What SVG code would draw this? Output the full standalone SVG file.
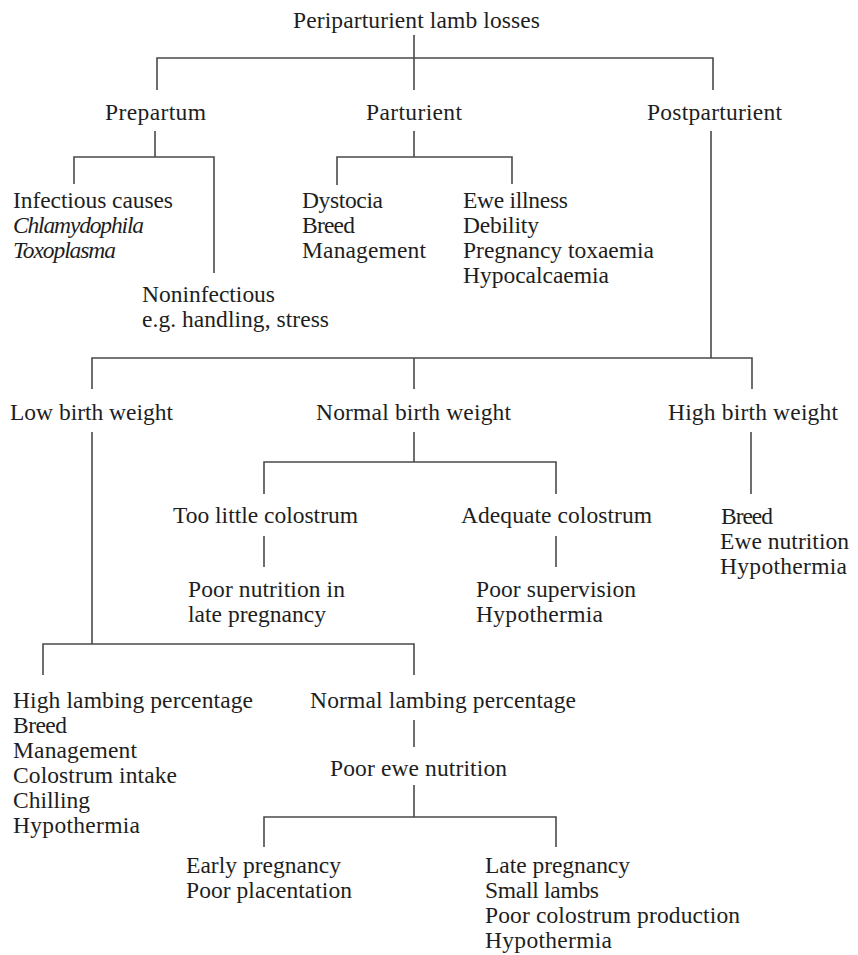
<svg xmlns="http://www.w3.org/2000/svg" width="858" height="955" viewBox="0 0 858 955">
  <style>
    text { font-family: "Liberation Serif", "Times New Roman", serif; font-size: 23.5px; fill: #1e1e1e; }
    .it { font-style: italic; }
    .conn path { fill: none; stroke: #4a4a4a; stroke-width: 1.6; }
  </style>
  <rect width="858" height="955" fill="#fff"/>

  <!-- tree connectors -->
  <g class="conn" id="connectors">
    <path d="M414 35 V90 M157 90 V58 H713 V90"/>
    <path d="M155 131 V157 M74 184 V157 H214 V273"/>
    <path d="M414 131 V157 M337 185 V157 H512 V184"/>
    <path d="M711 131 V358 M92 389 V358 H752 V389 M414 358 V389"/>
    <path d="M92 432 V644 M43 675 V644 H414 V675"/>
    <path d="M414 432 V462 M264 494 V462 H556 V494"/>
    <path d="M264 536 V567 M556 536 V567"/>
    <path d="M751 432 V494"/>
    <path d="M414 720 V747"/>
    <path d="M414 785 V817 M264 847 V817 H556 V847"/>
  </g>

  <g id="root">
    <text x="293" y="28" textLength="247" lengthAdjust="spacing">Periparturient lamb losses</text>
  </g>

  <g id="prepartum">
    <text x="105" y="120" textLength="101" lengthAdjust="spacing">Prepartum</text>
  </g>
  <g id="parturient">
    <text x="366" y="120" textLength="96" lengthAdjust="spacing">Parturient</text>
  </g>
  <g id="postparturient">
    <text x="647" y="120" textLength="135" lengthAdjust="spacing">Postparturient</text>
  </g>

  <g id="infectious">
    <text x="13" y="208" textLength="160" lengthAdjust="spacing">Infectious causes</text>
    <text class="it" x="13" y="233" textLength="131" lengthAdjust="spacing">Chlamydophila</text>
    <text class="it" x="13" y="258" textLength="103" lengthAdjust="spacing">Toxoplasma</text>
  </g>
  <g id="noninfectious">
    <text x="142" y="302" textLength="133" lengthAdjust="spacing">Noninfectious</text>
    <text x="142" y="327" textLength="187" lengthAdjust="spacing">e.g. handling, stress</text>
  </g>

  <g id="dystocia">
    <text x="302" y="208" textLength="81" lengthAdjust="spacing">Dystocia</text>
    <text x="302" y="233" textLength="53" lengthAdjust="spacing">Breed</text>
    <text x="302" y="258" textLength="124" lengthAdjust="spacing">Management</text>
  </g>
  <g id="ewe-illness">
    <text x="463" y="208" textLength="105" lengthAdjust="spacing">Ewe illness</text>
    <text x="463" y="233" textLength="76" lengthAdjust="spacing">Debility</text>
    <text x="463" y="258" textLength="191" lengthAdjust="spacing">Pregnancy toxaemia</text>
    <text x="463" y="283" textLength="146" lengthAdjust="spacing">Hypocalcaemia</text>
  </g>

  <g id="low-birth-weight">
    <text x="10" y="420" textLength="163" lengthAdjust="spacing">Low birth weight</text>
  </g>
  <g id="normal-birth-weight">
    <text x="316" y="420" textLength="195" lengthAdjust="spacing">Normal birth weight</text>
  </g>
  <g id="high-birth-weight">
    <text x="668" y="420" textLength="170" lengthAdjust="spacing">High birth weight</text>
  </g>

  <g id="too-little-colostrum">
    <text x="173" y="523" textLength="185" lengthAdjust="spacing">Too little colostrum</text>
  </g>
  <g id="adequate-colostrum">
    <text x="461" y="523" textLength="191" lengthAdjust="spacing">Adequate colostrum</text>
  </g>
  <g id="high-bw-causes">
    <text x="721" y="524" textLength="52" lengthAdjust="spacing">Breed</text>
    <text x="720" y="549" textLength="129" lengthAdjust="spacing">Ewe nutrition</text>
    <text x="720" y="574" textLength="127" lengthAdjust="spacing">Hypothermia</text>
  </g>

  <g id="poor-nutrition">
    <text x="188" y="597" textLength="157" lengthAdjust="spacing">Poor nutrition in</text>
    <text x="188" y="622" textLength="138" lengthAdjust="spacing">late pregnancy</text>
  </g>
  <g id="poor-supervision">
    <text x="476" y="597" textLength="160" lengthAdjust="spacing">Poor supervision</text>
    <text x="476" y="622" textLength="127" lengthAdjust="spacing">Hypothermia</text>
  </g>

  <g id="high-lambing">
    <text x="13" y="708" textLength="240" lengthAdjust="spacing">High lambing percentage</text>
    <text x="13" y="733" textLength="54" lengthAdjust="spacing">Breed</text>
    <text x="13" y="758" textLength="124" lengthAdjust="spacing">Management</text>
    <text x="13" y="783" textLength="164" lengthAdjust="spacing">Colostrum intake</text>
    <text x="13" y="808" textLength="77" lengthAdjust="spacing">Chilling</text>
    <text x="13" y="833" textLength="127" lengthAdjust="spacing">Hypothermia</text>
  </g>
  <g id="normal-lambing">
    <text x="310" y="708" textLength="266" lengthAdjust="spacing">Normal lambing percentage</text>
  </g>
  <g id="poor-ewe-nutrition">
    <text x="330" y="776" textLength="177" lengthAdjust="spacing">Poor ewe nutrition</text>
  </g>

  <g id="early-pregnancy">
    <text x="186" y="873" textLength="155" lengthAdjust="spacing">Early pregnancy</text>
    <text x="186" y="898" textLength="166" lengthAdjust="spacing">Poor placentation</text>
  </g>
  <g id="late-pregnancy">
    <text x="485" y="873" textLength="145" lengthAdjust="spacing">Late pregnancy</text>
    <text x="485" y="898" textLength="114" lengthAdjust="spacing">Small lambs</text>
    <text x="485" y="923" textLength="255" lengthAdjust="spacing">Poor colostrum production</text>
    <text x="485" y="948" textLength="127" lengthAdjust="spacing">Hypothermia</text>
  </g>
</svg>
